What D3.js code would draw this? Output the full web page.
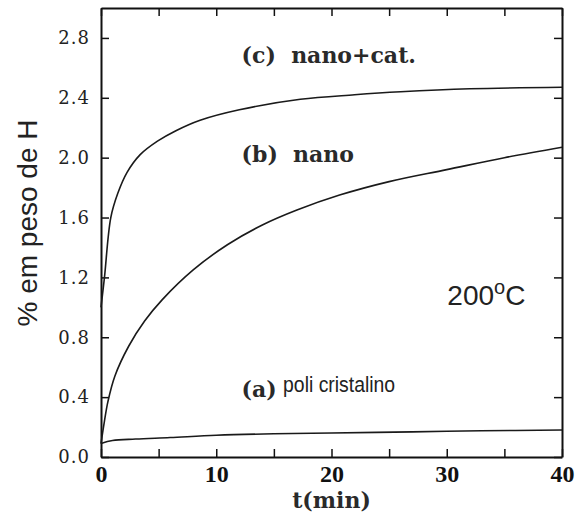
<!DOCTYPE html>
<html>
<head>
<meta charset="utf-8">
<script src="https://cdn.jsdelivr.net/npm/d3@7"></script>
<style>
  body { margin: 0; background: #fff; }
  .axis path, .axis line { stroke: #111; }
  .axis path { stroke-width: 2px; }
  .axis line { stroke-width: 1.5px; }
  .ylab text { font-family: "DejaVu Serif", serif; font-size: 18px; letter-spacing: 1px; fill: #222; }
  .xlab text { font-family: "Liberation Serif", serif; font-weight: bold; font-size: 24px; fill: #111; }
  .curve { fill: none; stroke: #1a1a1a; stroke-width: 1.6px; }
  .lbl { font-family: "DejaVu Serif", serif; font-weight: bold; font-size: 22px; fill: #2a2a2a; }
  .sans { font-family: "Liberation Sans", Arial, sans-serif; fill: #222; }
</style>
</head>
<body>
<div id="chart"></div>
<script>
// curves: [t (min), % em peso de H]
var nanoCat = [[0, 1.0], [0.3, 1.2], [0.85, 1.6], [1.45, 1.76], [2.25, 1.9], [3.4, 2.02],
  [4.9, 2.11], [6.5, 2.18], [8.6, 2.25], [12, 2.32], [17.3, 2.39], [22, 2.42],
  [26, 2.44], [32, 2.46], [40, 2.47]];
var nano = [[0, 0.09], [0.3, 0.24], [0.6, 0.37], [1.2, 0.54], [2.4, 0.74], [3.8, 0.91],
  [5.3, 1.05], [8, 1.25], [11, 1.42], [14, 1.55], [17, 1.65], [20.7, 1.75],
  [25, 1.84], [30, 1.92], [35, 2.0], [40, 2.07]];
var poli = [[0, 0.09], [1, 0.11], [3, 0.12], [6, 0.13], [10, 0.145], [15, 0.155],
  [20, 0.16], [27, 0.168], [33, 0.175], [40, 0.18]];

var xTicks = [0, 5, 10, 15, 20, 25, 30, 35, 40];
var yTicks = [0, 0.4, 0.8, 1.2, 1.6, 2.0, 2.4, 2.8];

var width = 577,
  height = 515,
  margin = {top: 8, right: 15, bottom: 58, left: 101};

var svg = d3.select("#chart").append("svg")
  .attr("width", width)
  .attr("height", height);

var x = d3.scaleLinear().domain([0, 40]).range([margin.left, width - margin.right]);
var y = d3.scaleLinear().domain([0, 3.0]).range([height - margin.bottom, margin.top]);

// axes, ticks pointing inward
svg.append("g")
  .attr("class", "axis xlab")
  .attr("transform", "translate(0," + y(0) + ")")
  .call(d3.axisBottom(x).tickValues(xTicks).tickSize(-8).tickSizeOuter(0).tickPadding(8)
    .tickFormat(function(d) { return d % 10 === 0 ? d : ""; }));

svg.append("g")
  .attr("class", "axis")
  .attr("transform", "translate(0," + y(3.0) + ")")
  .call(d3.axisTop(x).tickValues(xTicks).tickSize(-8).tickSizeOuter(0).tickFormat(""));

svg.append("g")
  .attr("class", "axis ylab")
  .attr("transform", "translate(" + x(0) + ",0)")
  .call(d3.axisLeft(y).tickValues(yTicks).tickSize(-8).tickSizeOuter(0).tickPadding(11)
    .tickFormat(d3.format(".1f")));

svg.append("g")
  .attr("class", "axis")
  .attr("transform", "translate(" + x(40) + ",0)")
  .call(d3.axisRight(y).tickValues(yTicks).tickSize(-8).tickSizeOuter(0).tickFormat(""));

// curves
var line = d3.line()
  .x(function(d) { return x(d[0]); })
  .y(function(d) { return y(d[1]); })
  .curve(d3.curveCatmullRom.alpha(0.5));

[poli, nano, nanoCat].forEach(function(s) {
  svg.append("path").attr("class", "curve").attr("d", line(s));
});

// labels
svg.append("text").attr("class", "lbl")
  .attr("x", x(12.2)).attr("y", y(2.63))
  .attr("xml:space", "preserve")
  .text("(c)  nano+cat.");

svg.append("text").attr("class", "lbl")
  .attr("x", x(12.2)).attr("y", y(1.97))
  .attr("xml:space", "preserve")
  .text("(b)  nano");

svg.append("text").attr("class", "lbl")
  .attr("x", x(12.2)).attr("y", y(0.4))
  .text("(a)");

svg.append("text").attr("class", "sans")
  .attr("x", x(15.8)).attr("y", y(0.435))
  .attr("font-size", 22)
  .attr("textLength", 112)
  .attr("lengthAdjust", "spacingAndGlyphs")
  .text("poli cristalino");

var temp = svg.append("text").attr("class", "sans")
  .attr("x", x(30.05)).attr("y", y(1.015))
  .attr("font-size", 28);
temp.append("tspan").text("200");
temp.append("tspan").attr("font-size", 20).attr("dy", -11).text("o");
temp.append("tspan").attr("dy", 11).text("C");

// axis titles
svg.append("text").attr("class", "sans")
  .attr("transform", "translate(37,223) rotate(-90)")
  .attr("text-anchor", "middle")
  .attr("font-size", 28)
  .text("% em peso de H");

svg.append("text").attr("class", "lbl")
  .attr("x", (x(0) + x(40)) / 2).attr("y", 508)
  .attr("text-anchor", "middle")
  .text("t(min)");
</script>
</body>
</html>
